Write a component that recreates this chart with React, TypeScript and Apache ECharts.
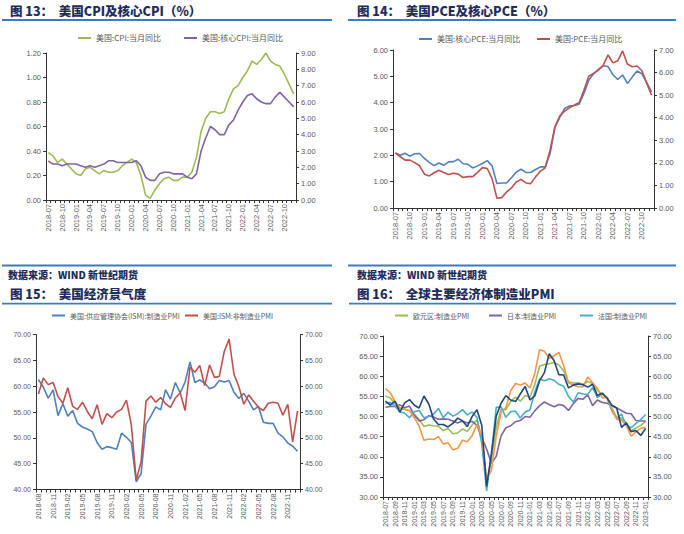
import React, { useEffect, useRef } from "react";
import * as echarts from "echarts";

function monthRange(start: string, n: number): string[] {
  const [y0, m0] = start.split("-").map(Number);
  const out: string[] = [];
  for (let i = 0; i < n; i++) {
    const t = (m0 - 1) + i;
    const y = y0 + Math.floor(t / 12);
    const m = (t % 12) + 1;
    out.push(`${y}-${m < 10 ? "0" + m : m}`);
  }
  return out;
}

// ---- Chart 13: US CPI ----
const cpiMonths = monthRange("2018-07", 54);
const usCpi = [
  2.9, 2.7, 2.3, 2.5, 2.2, 1.9,
  1.6, 1.5, 1.9, 2.0, 1.8, 1.6, 1.8, 1.7, 1.7, 1.8, 2.1, 2.3,
  2.5, 2.3, 1.5, 0.3, 0.1, 0.6, 1.0, 1.3, 1.4, 1.2, 1.2, 1.4,
  1.4, 1.7, 2.6, 4.2, 5.0, 5.4, 5.4, 5.3, 5.4, 6.2, 6.8, 7.0,
  7.5, 7.9, 8.5, 8.3, 8.6, 9.0, 8.5, 8.3, 8.2, 7.7, 7.1, 6.5,
];
const usCoreCpi = [
  2.4, 2.2, 2.2, 2.1, 2.2, 2.2,
  2.2, 2.1, 2.0, 2.1, 2.0, 2.1, 2.2, 2.4, 2.4, 2.3, 2.3, 2.3,
  2.3, 2.4, 2.1, 1.4, 1.2, 1.2, 1.6, 1.7, 1.7, 1.6, 1.6, 1.6,
  1.4, 1.3, 1.6, 3.0, 3.8, 4.5, 4.3, 4.0, 4.0, 4.6, 4.9, 5.5,
  6.0, 6.4, 6.5, 6.2, 6.0, 5.9, 5.9, 6.3, 6.6, 6.3, 6.0, 5.7,
];

// ---- Chart 14: US PCE ----
const pceMonths = monthRange("2018-07", 54);
const usCorePce = [
  2.09, 2.0, 2.08, 1.97, 2.06, 2.07,
  1.88, 1.73, 1.61, 1.71, 1.62, 1.75, 1.76, 1.85, 1.68, 1.66, 1.52, 1.6,
  1.69, 1.8, 1.6, 0.93, 0.95, 0.95, 1.15, 1.36, 1.47, 1.35, 1.35, 1.46,
  1.56, 1.56, 2.07, 3.06, 3.44, 3.78, 3.87, 3.89, 3.94, 4.35, 4.85, 5.1,
  5.26, 5.4, 5.37, 5.06, 4.88, 5.05, 4.73, 4.97, 5.2, 5.1, 4.76, 4.41,
];
const usPce = [
  2.44, 2.27, 2.12, 2.12, 2.01, 1.87,
  1.5, 1.42, 1.56, 1.67, 1.57, 1.48, 1.54, 1.5, 1.35, 1.39, 1.39, 1.58,
  1.79, 1.75, 1.3, 0.43, 0.46, 0.71, 0.89, 1.15, 1.27, 1.11, 1.08, 1.38,
  1.63, 1.78, 2.56, 3.6, 4.07, 4.29, 4.44, 4.56, 4.66, 5.22, 5.84, 5.96,
  6.11, 6.33, 6.78, 6.43, 6.52, 6.96, 6.38, 6.26, 6.29, 6.08, 5.52, 5.0,
];

// ---- Chart 15: US ISM ----
const ismMonths = monthRange("2018-08", 54);
const ismManufacturing = [
  61.3, 59.8, 57.7, 59.3, 54.3,
  56.6, 54.2, 55.3, 52.8, 52.1, 51.7, 51.2, 49.1, 47.8, 48.3, 48.1, 47.8,
  50.9, 50.1, 49.1, 41.5, 43.1, 52.6, 54.2, 56.0, 55.4, 59.3, 57.5, 60.7,
  58.7, 60.8, 64.7, 60.7, 61.2, 60.6, 59.5, 59.9, 61.1, 60.8, 61.1, 58.8,
  57.6, 58.6, 57.1, 55.4, 56.1, 53.0, 52.8, 52.8, 50.9, 50.2, 49.0, 48.4,
  47.4,
];
const ismServices = [
  58.5, 61.6, 60.3, 60.7, 58.0,
  56.7, 59.7, 56.1, 55.5, 56.9, 55.1, 53.7, 56.4, 52.6, 54.7, 53.9, 55.0,
  55.5, 57.3, 52.5, 41.8, 45.4, 57.1, 58.1, 56.9, 57.8, 56.6, 55.9, 57.7,
  58.7, 55.3, 63.7, 62.7, 64.0, 60.1, 64.1, 61.7, 61.9, 66.7, 69.1, 62.3,
  59.9, 56.5, 58.3, 57.1, 55.9, 55.3, 56.7, 56.9, 56.7, 54.4, 56.5, 49.2,
  55.2,
];

// ---- Chart 16: Global manufacturing PMI ----
const pmiMonths = monthRange("2018-07", 55);
const euroPmi = [
  55.1, 54.6, 53.2, 52.0, 51.8, 51.4,
  50.5, 49.3, 47.5, 47.9, 47.7, 47.6, 46.5, 47.0, 45.7, 45.9, 46.9, 46.3,
  47.9, 49.2, 44.5, 33.4, 39.4, 47.4, 51.8, 51.7, 53.7, 54.8, 53.8, 55.2,
  54.8, 57.9, 62.5, 62.9, 63.1, 63.4, 62.8, 61.4, 58.6, 58.3, 58.4, 58.0,
  58.7, 58.2, 56.5, 55.5, 54.6, 52.1, 49.8, 49.6, 48.4, 46.4, 47.1, 47.8,
  48.8,
];
const japanPmi = [
  52.3, 52.5, 52.5, 52.9, 52.2, 52.6,
  50.3, 48.9, 49.2, 50.2, 49.8, 49.3, 49.4, 49.3, 48.9, 48.4, 48.9, 48.4,
  48.8, 47.8, 44.8, 41.9, 38.4, 40.1, 45.2, 47.2, 47.7, 48.7, 49.0, 50.0,
  49.8, 51.4, 52.7, 53.6, 53.0, 52.4, 53.0, 52.7, 51.5, 53.2, 54.5, 54.3,
  55.4, 52.7, 54.1, 53.5, 53.3, 52.7, 52.1, 51.5, 50.8, 50.7, 49.0, 48.9,
  48.9,
];
const francePmi = [
  53.3, 53.5, 52.5, 51.2, 50.8, 49.7,
  51.2, 51.5, 49.7, 50.0, 50.6, 52.0, 49.7, 51.1, 50.1, 50.7, 51.7, 50.4,
  51.1, 49.8, 43.2, 31.5, 40.6, 52.3, 52.4, 49.8, 51.2, 51.3, 49.6, 51.1,
  51.6, 56.1, 59.3, 58.9, 59.4, 59.0, 58.0, 57.5, 55.0, 53.6, 55.9, 55.6,
  55.5, 57.2, 54.7, 55.7, 54.6, 51.4, 49.5, 50.6, 47.7, 47.2, 48.3, 49.2,
  50.5,
];
const germanyPmi = [
  56.9, 55.9, 53.7, 52.2, 51.8, 51.5,
  49.7, 47.6, 44.1, 44.4, 44.3, 45.0, 43.2, 43.5, 41.7, 42.1, 44.1, 43.7,
  45.3, 48.0, 45.4, 34.5, 36.6, 45.2, 51.0, 52.2, 56.4, 58.2, 57.8, 58.3,
  57.1, 60.7, 66.6, 66.2, 64.4, 65.1, 65.9, 62.6, 58.4, 57.8, 57.4, 57.4,
  59.8, 58.4, 56.9, 54.6, 54.8, 52.0, 49.3, 49.1, 47.8, 45.1, 46.2, 47.1,
  47.3,
];
const ukPmi = [
  53.8, 52.8, 53.8, 51.1, 53.4, 54.2,
  52.8, 52.1, 55.1, 53.1, 49.4, 48.0, 48.0, 47.4, 48.3, 49.6, 48.9, 47.5,
  50.0, 51.7, 47.8, 32.6, 40.7, 50.1, 53.3, 55.2, 54.1, 53.7, 55.6, 57.5,
  54.1, 55.1, 58.9, 60.9, 65.6, 63.9, 60.4, 60.3, 57.1, 57.8, 58.1, 57.9,
  57.3, 58.0, 55.2, 55.8, 54.6, 52.8, 52.1, 47.3, 48.4, 46.2, 46.5, 45.3,
  47.0,
];

const FONT = "'Liberation Sans', 'Noto Sans CJK SC', sans-serif";
const CJK = "'Noto Sans CJK SC', 'Liberation Sans', sans-serif";
const AXIS = "#333333";
const LABEL = "#595959";
const RULE = "#3a7cc2";
const NAVY = "#1f2d5c";

function xAxis(gridIndex: number, data: string[], interval: number, fontSize: number) {
  return {
    type: "category",
    gridIndex,
    data,
    boundaryGap: true,
    axisLine: { show: true, lineStyle: { color: AXIS, width: 1 } },
    axisTick: { show: true, interval: 0, length: 3, lineStyle: { color: AXIS } },
    axisLabel: { interval, rotate: 90, fontSize, color: LABEL, margin: 4, fontFamily: FONT },
    splitLine: { show: false },
  };
}

function yAxis(gridIndex: number, position: string, min: number, max: number, interval: number, fontSize: number) {
  return {
    type: "value",
    gridIndex,
    position,
    min,
    max,
    interval,
    axisLine: { show: true, lineStyle: { color: AXIS, width: 1 } },
    axisTick: { show: true, length: 3, lineStyle: { color: AXIS } },
    axisLabel: {
      formatter: (v: number) => v.toFixed(2),
      fontSize,
      color: LABEL,
      margin: 5,
      fontFamily: FONT,
    },
    splitLine: { show: false },
  };
}

function line(name: string, data: number[], color: string, xAxisIndex: number, yAxisIndex: number) {
  return {
    type: "line",
    name,
    data,
    xAxisIndex,
    yAxisIndex,
    symbol: "none",
    showSymbol: false,
    color,
    lineStyle: { color, width: 1.6 },
  };
}

function legendItem(name: string, left: number, cy: number, fontSize: number) {
  return {
    data: [name],
    left,
    top: cy - 5,
    padding: 0,
    icon: "rect",
    itemWidth: 13,
    itemHeight: 2,
    textStyle: { fontSize, color: LABEL, fontFamily: CJK },
    selectedMode: false,
  };
}

function text(str: string, x: number, y: number, size: number) {
  return {
    type: "text",
    x,
    y,
    style: {
      text: str,
      fill: NAVY,
      font: `900 ${size}px ${CJK}`,
      textVerticalAlign: "middle",
      verticalAlign: "middle",
      textAlign: "left",
      align: "left",
    },
  };
}

function rule(x: number, y: number, w: number) {
  return { type: "rect", shape: { x, y: y - 0.9, width: w, height: 1.8 }, style: { fill: RULE } };
}

const option = {
  animation: false,
  backgroundColor: "#ffffff",
  grid: [
    { left: 46, top: 53, width: 250, height: 147, containLabel: false },
    { left: 393, top: 50, width: 261, height: 158, containLabel: false },
    { left: 36, top: 334.5, width: 264, height: 155, containLabel: false },
    { left: 383, top: 336, width: 265, height: 161, containLabel: false },
  ],
  xAxis: [
    xAxis(0, cpiMonths, 2, 7.5),
    xAxis(1, pceMonths, 2, 7.5),
    xAxis(2, ismMonths, 2, 7),
    xAxis(3, pmiMonths, 1, 7),
  ],
  yAxis: [
    yAxis(0, "left", 0, 1.2, 0.2, 7.5),
    yAxis(0, "right", 0, 9, 1, 7.5),
    yAxis(1, "left", 0, 6, 1, 7.5),
    yAxis(1, "right", 0, 7, 1, 7.5),
    yAxis(2, "left", 40, 70, 5, 7),
    yAxis(2, "right", 40, 70, 5, 7),
    yAxis(3, "left", 30, 70, 5, 7.5),
    yAxis(3, "right", 30, 70, 5, 7.5),
  ],
  legend: [
    legendItem("美国:CPI:当月同比", 78, 39, 8),
    legendItem("美国:核心CPI:当月同比", 184, 39, 8),
    legendItem("美国:核心PCE:当月同比", 419, 40, 8),
    legendItem("美国:PCE:当月同比", 537, 40, 8),
    legendItem("美国:供应管理协会(ISM):制造业PMI", 52, 317, 7),
    legendItem("美国:ISM:非制造业PMI", 185, 317, 7),
    legendItem("欧元区:制造业PMI", 395, 317, 7),
    legendItem("日本:制造业PMI", 489, 317, 7),
    legendItem("法国:制造业PMI", 580, 317, 7),
  ],
  series: [
    line("美国:CPI:当月同比", usCpi, "#9bbb59", 0, 1),
    line("美国:核心CPI:当月同比", usCoreCpi, "#8064a2", 0, 1),
    line("美国:核心PCE:当月同比", usCorePce, "#4f81bd", 1, 2),
    line("美国:PCE:当月同比", usPce, "#c0504d", 1, 3),
    line("美国:供应管理协会(ISM):制造业PMI", ismManufacturing, "#4f81bd", 2, 4),
    line("美国:ISM:非制造业PMI", ismServices, "#c0504d", 2, 5),
    line("欧元区:制造业PMI", euroPmi, "#9bbb59", 3, 6),
    line("日本:制造业PMI", japanPmi, "#8064a2", 3, 6),
    line("法国:制造业PMI", francePmi, "#4bacc6", 3, 6),
    line("德国:制造业PMI", germanyPmi, "#f79646", 3, 6),
    line("英国:制造业PMI", ukPmi, "#1f497d", 3, 6),
  ],
  graphic: [
    text("图 13：  美国CPI及核心CPI（%）", 10, 10, 12.5),
    text("图 14：  美国PCE及核心PCE（%）", 357, 10, 12.5),
    rule(2, 20, 330),
    rule(348, 20, 328),
    rule(2, 265.5, 330),
    rule(348, 265.5, 328),
    text("数据来源：WIND 新世纪期货", 8, 274, 10),
    text("数据来源：WIND 新世纪期货", 357, 274, 10),
    text("图 15：  美国经济景气度", 10, 293.5, 12.5),
    text("图 16：  全球主要经济体制造业PMI", 357, 293.5, 12.5),
    rule(2, 303.7, 330),
    rule(349, 303.7, 327),
  ],
};

export default function App() {
  const ref = useRef<HTMLDivElement>(null);
  useEffect(() => {
    document.body.style.margin = "0";
    const chart = echarts.init(ref.current as HTMLDivElement, null, { renderer: "svg" });
    chart.setOption(option as any);
    return () => chart.dispose();
  }, []);
  return (
    <div
      ref={ref}
      style={{ position: "fixed", left: 0, top: 0, width: 684, height: 534, background: "#ffffff" }}
    />
  );
}
